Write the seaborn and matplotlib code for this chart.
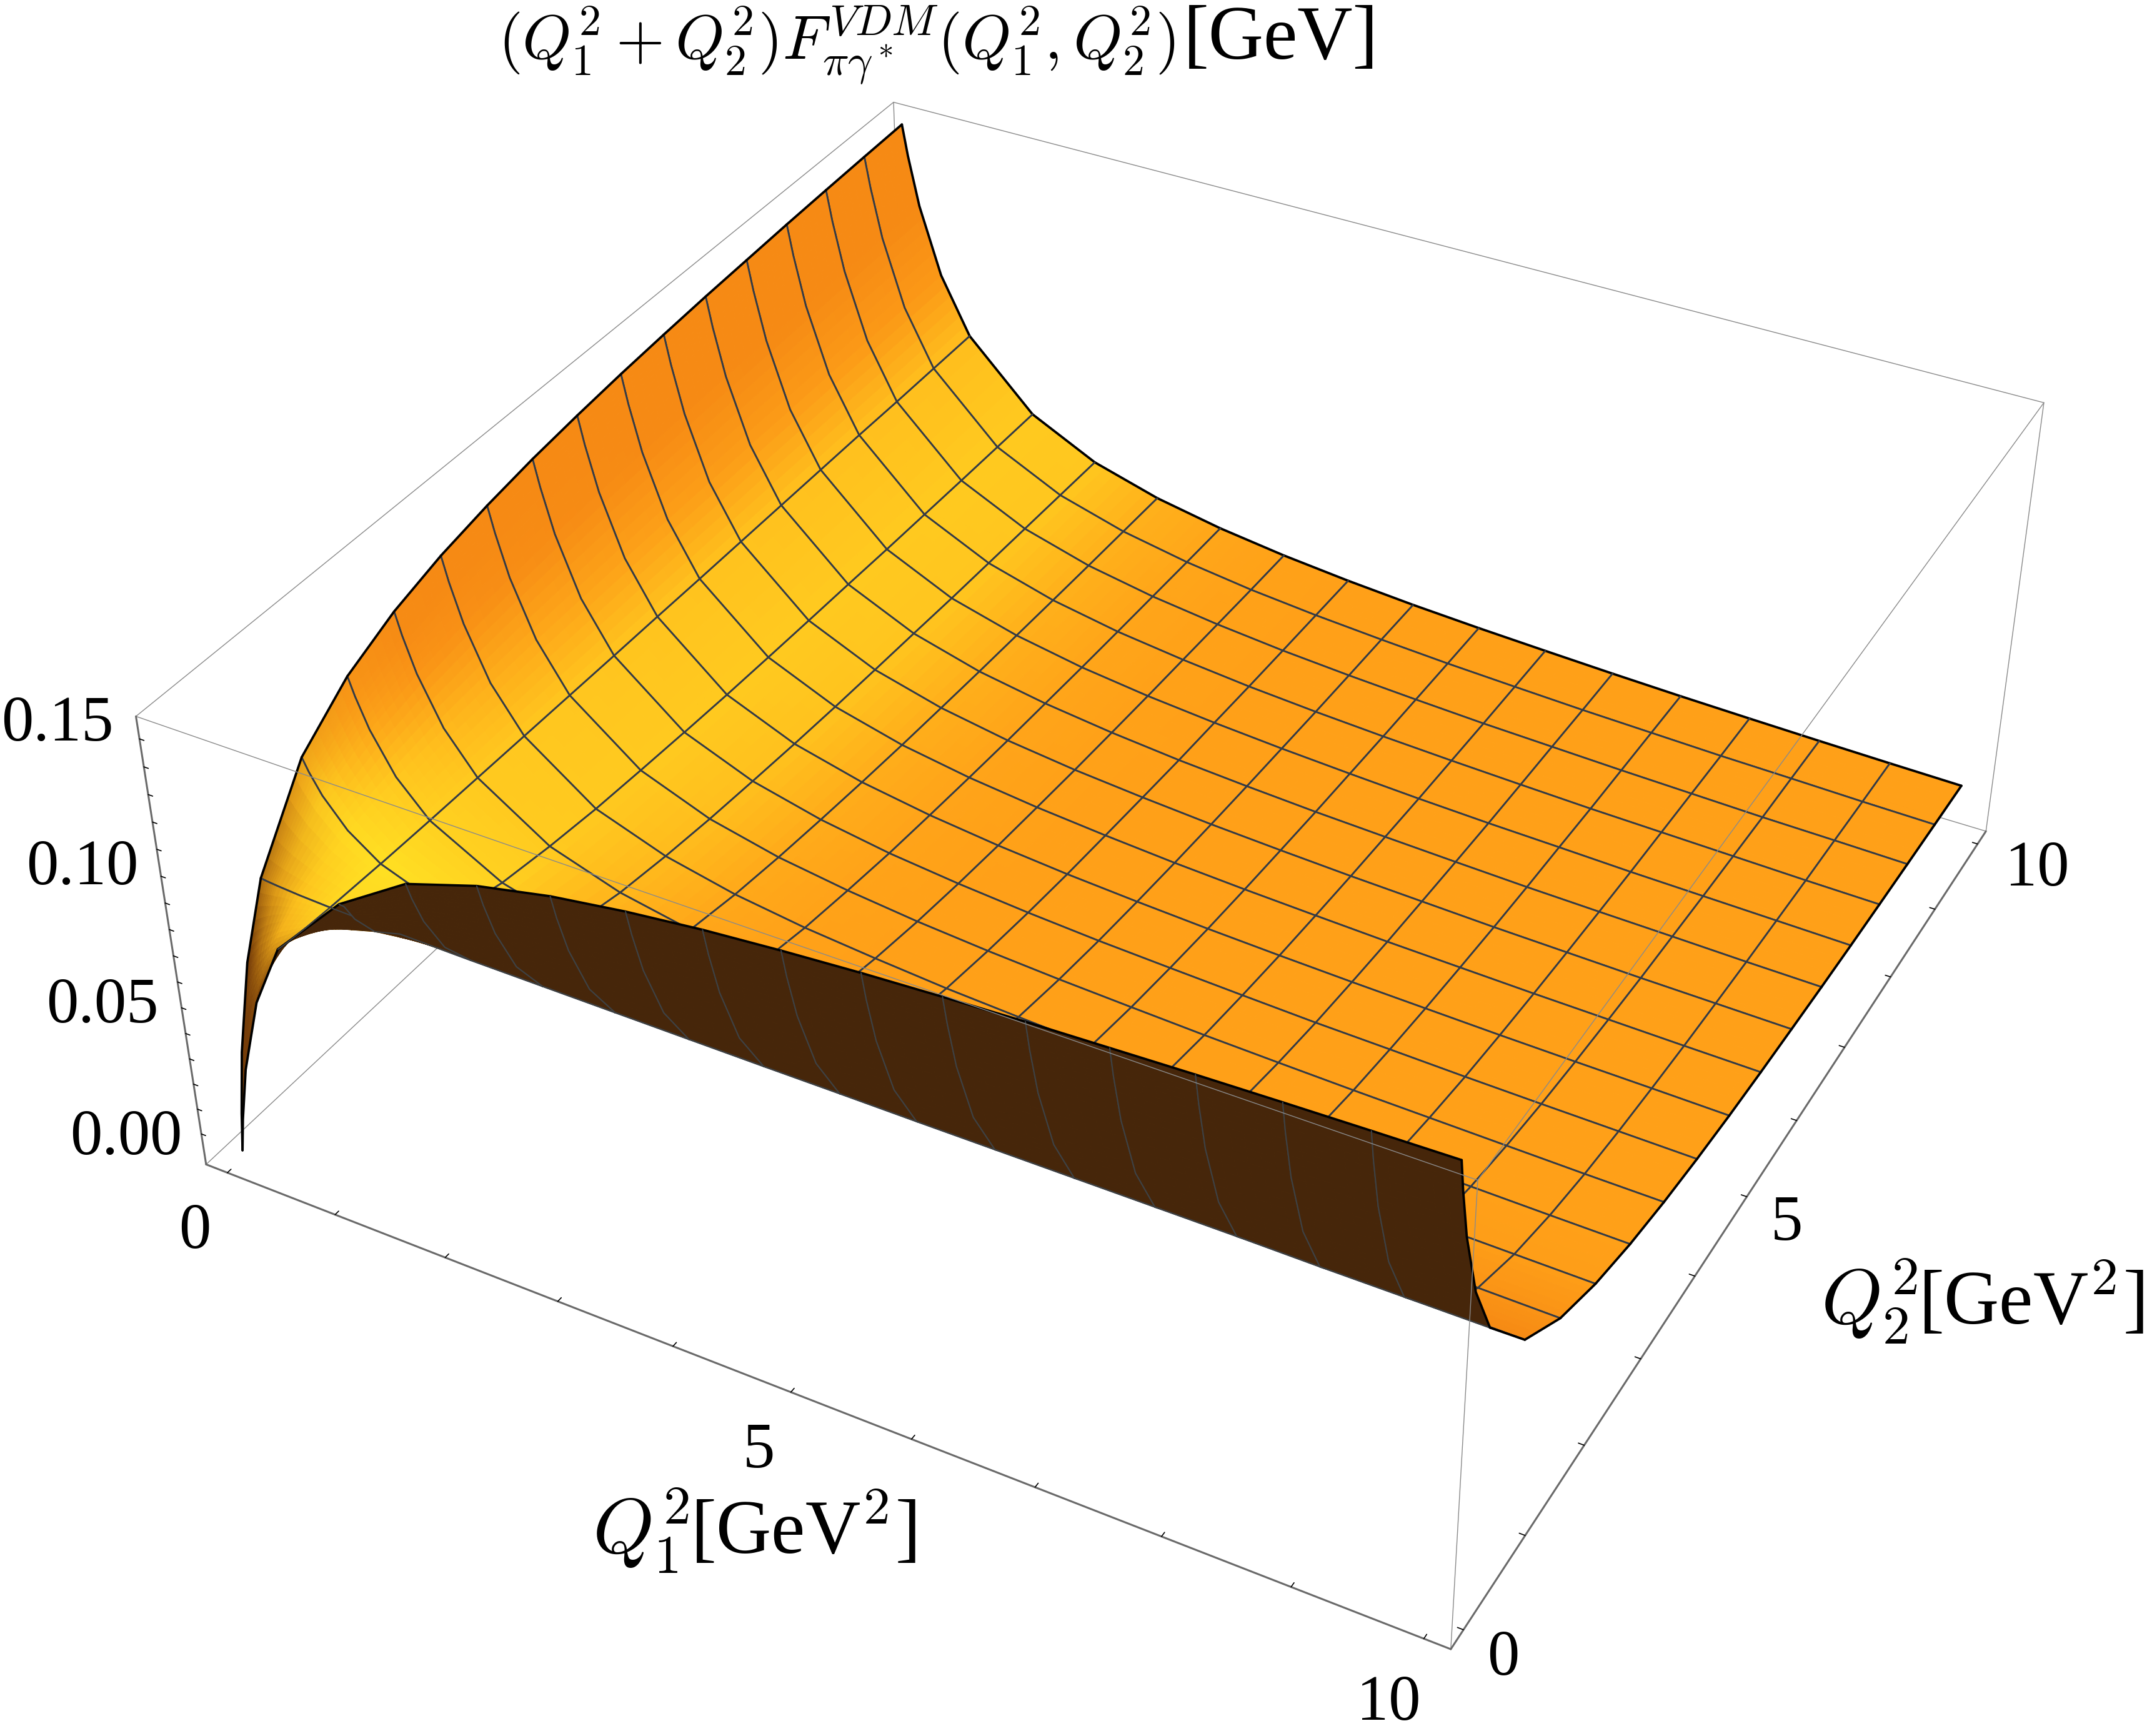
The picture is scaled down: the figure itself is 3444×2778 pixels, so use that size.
import numpy as np
import matplotlib
matplotlib.use('Agg')
import matplotlib.pyplot as plt
import seaborn as sns
from mpl_toolkits.mplot3d.art3d import Poly3DCollection

# grid: Q1^2 and Q2^2 nodes, finer next to the steep rims
q_nodes = [0, 0.05, 0.15, 0.35, 0.625, 1.25, 1.875, 2.5, 3.125, 3.75, 4.375, 5.0,
           5.625, 6.25, 6.875, 7.5, 8.125, 8.75, 9.375, 10.0]

# surface height in units of 1e-4 GeV, rows are Q1^2, columns Q2^2
z_rows = [
    [-95, 39, 254, 548, 795, 1084, 1226, 1312, 1369, 1409, 1440, 1463, 1482, 1497, 1510, 1520, 1530, 1538, 1545, 1551],
    [39, 152, 335, 583, 792, 1036, 1157, 1229, 1277, 1312, 1338, 1357, 1373, 1387, 1397, 1406, 1414, 1421, 1427, 1432],
    [254, 335, 463, 639, 788, 961, 1047, 1098, 1132, 1156, 1174, 1189, 1200, 1209, 1217, 1223, 1228, 1234, 1238, 1241],
    [548, 583, 639, 717, 782, 858, 895, 919, 933, 944, 951, 958, 963, 966, 971, 973, 976, 978, 979, 981],
    [795, 792, 788, 782, 777, 771, 768, 767, 766, 765, 764, 764, 763, 763, 763, 763, 763, 761, 761, 761],
    [1058, 1036, 961, 858, 771, 670, 619, 590, 569, 556, 545, 536, 530, 525, 521, 516, 513, 510, 508, 506],
    [1226, 1157, 1047, 895, 768, 619, 546, 501, 473, 452, 437, 424, 414, 407, 401, 394, 390, 386, 382, 378],
    [1312, 1229, 1098, 919, 767, 590, 501, 449, 414, 390, 372, 357, 345, 336, 328, 322, 316, 311, 307, 303],
    [1369, 1277, 1132, 933, 766, 569, 473, 414, 376, 350, 328, 313, 300, 289, 281, 273, 267, 262, 257, 253],
    [1409, 1312, 1156, 944, 765, 556, 452, 390, 350, 320, 298, 281, 268, 256, 247, 239, 233, 227, 221, 217],
    [1440, 1338, 1174, 951, 764, 545, 437, 372, 328, 298, 275, 257, 244, 232, 221, 214, 206, 200, 195, 190],
    [1463, 1357, 1189, 958, 764, 536, 424, 357, 313, 281, 257, 239, 224, 212, 202, 194, 186, 180, 175, 169],
    [1482, 1373, 1200, 963, 763, 530, 414, 345, 300, 268, 244, 224, 209, 197, 186, 178, 170, 164, 158, 153],
    [1497, 1387, 1209, 966, 763, 525, 407, 336, 289, 256, 232, 212, 197, 184, 174, 164, 157, 150, 145, 140],
    [1510, 1397, 1217, 971, 763, 521, 401, 328, 281, 247, 221, 202, 186, 174, 163, 153, 146, 140, 133, 128],
    [1520, 1406, 1223, 973, 763, 516, 394, 322, 273, 239, 214, 194, 178, 164, 153, 145, 136, 130, 124, 118],
    [1530, 1414, 1228, 976, 763, 513, 390, 316, 267, 233, 206, 186, 170, 157, 146, 136, 129, 122, 115, 110],
    [1538, 1421, 1234, 978, 761, 510, 386, 311, 262, 227, 200, 180, 164, 150, 140, 130, 122, 114, 109, 103],
    [1545, 1427, 1238, 979, 761, 508, 382, 307, 257, 221, 195, 175, 158, 145, 133, 124, 115, 109, 102, 97],
    [1551, 1432, 1241, 981, 761, 506, 378, 303, 253, 217, 190, 169, 153, 140, 128, 118, 110, 103, 97, 92],
]

q_ticks = [0, 1, 2, 3, 4, 5, 6, 7, 8, 9, 10]
z_ticks = [0.00, 0.01, 0.02, 0.03, 0.04, 0.05, 0.06, 0.07, 0.08, 0.09, 0.10, 0.11, 0.12, 0.13, 0.14, 0.15]

sns.set_theme(style='white')
plt.rcParams['font.family'] = ['Liberation Serif', 'DejaVu Serif']
plt.rcParams['mathtext.fontset'] = 'cm'

orange, yellow, spot_yellow, deep, burnt, brown, under = sns.color_palette(
    ['#FFA018', '#FFCE20', '#FFEA24', '#F68A14', '#CC6A0A', '#6E3708', '#46260A'])

W_PX, H_PX = 3444, 2778
q = np.array(q_nodes)
Z = np.array(z_rows) / 1e4
q_lo, q_hi = -0.2, 10.2
z_lo, z_hi = -0.0124, 0.158

fig = plt.figure(figsize=(W_PX / 100, H_PX / 100), dpi=100, facecolor='white')
ax = fig.add_axes([0, 0, 1, 1], projection='3d')
ax.set_xlim(q_lo, q_hi)
ax.set_ylim(q_lo, q_hi)
ax.set_zlim(z_lo, z_hi)
ax.view_init(elev=36.176, azim=-61.619)
ax.set_proj_type('persp', focal_length=0.4426)
ax.set_box_aspect((1, 1, 0.4))
ax.set_axis_off()
ax.computed_zorder = False

# scale and shift fitted to the box corners of the reference
s, tx_px, ty_px = 16734.957, 1819.894, 1245.794
x0, x1 = ax.viewLim.intervalx
y0, y1 = ax.viewLim.intervaly
side = s * (x1 - x0)
left = tx_px + s * x0
bottom = H_PX - (ty_px - s * y0)
ax.set_position([left / W_PX, bottom / H_PX, side / W_PX, side / H_PX])
M = ax.get_proj()


def project(x, y, z):
    p = M @ np.array([x, y, z, np.ones_like(x)])
    return p[0] / p[3], p[1] / p[3], p[2] / p[3]


def smooth(v, a, b):
    t = np.clip((v - a) / (b - a), 0, 1)
    return t * t * (3 - 2 * t)


def mix(rgb, col, w):
    return rgb + (np.array(col) - rgb) * w[..., None]


# colours per node from the slopes in box units, standing in for the original lights
A, B = np.meshgrid(q, q, indexing='ij')
slope = 0.4 / (z_hi - z_lo) * (q_hi - q_lo)
tx = -np.gradient(Z, q, axis=0) * slope
ty = -np.gradient(Z, q, axis=1) * slope
rgb = np.ones(Z.shape + (3,)) * np.array(orange)
rgb = mix(rgb, yellow, 0.9 * smooth(tx, 0.08, 0.45) * (1 - smooth(tx, 1.0, 3.0)))
rgb = mix(rgb, deep, np.maximum(smooth(tx, 1.5, 4), smooth(ty, 0.15, 0.6)))
rgb = mix(rgb, spot_yellow, np.exp(-((A - 1.0) ** 2 + (B - 0.9) ** 2) / 0.7))
rgb = mix(rgb, burnt, smooth(ty, 0.8, 1.6))
rgb = mix(rgb, brown, np.maximum(smooth(-tx, 0.3, 3), smooth(-ty, 0.3, 3)) * 0.95)

# one group per mesh cell, painted back to front so the mesh lines get hidden too
mesh_idx = [0] + list(range(4, 20))
n_split = 6
t = np.linspace(0, 1, n_split + 1)
blocks = []
for ia, ib in zip(mesh_idx[:-1], mesh_idx[1:]):
    for ja, jb in zip(mesh_idx[:-1], mesh_idx[1:]):
        mid = project(A[ia:ib + 1, ja:jb + 1].ravel(), B[ia:ib + 1, ja:jb + 1].ravel(), Z[ia:ib + 1, ja:jb + 1].ravel())
        blocks.append((np.mean(mid[2]), ia, ib, ja, jb))
blocks.sort(key=lambda b: -b[0])

zo = 10
for depth, ia, ib, ja, jb in blocks:
    faces, cols = [], []
    n_under = 0
    for i in range(ia, ib):
        for j in range(ja, jb):
            for u0, u1 in zip(t[:-1], t[1:]):
                for v0, v1 in zip(t[:-1], t[1:]):
                    pts = []
                    for u, v in [(u0, v0), (u1, v0), (u1, v1), (u0, v1)]:
                        pts.append((q[i] + u * (q[i + 1] - q[i]),
                                    q[j] + v * (q[j + 1] - q[j]),
                                    (1 - u) * (1 - v) * Z[i, j] + u * (1 - v) * Z[i + 1, j]
                                    + (1 - u) * v * Z[i, j + 1] + u * v * Z[i + 1, j + 1]))
                    pts = np.array(pts)
                    px, py, _ = project(pts[:, 0], pts[:, 1], pts[:, 2])
                    area = np.sum(px * np.roll(py, -1) - np.roll(px, -1) * py)
                    um, vm = (u0 + u1) / 2, (v0 + v1) / 2
                    c = ((1 - um) * (1 - vm) * rgb[i, j] + um * (1 - vm) * rgb[i + 1, j]
                         + (1 - um) * vm * rgb[i, j + 1] + um * vm * rgb[i + 1, j + 1])
                    if area < 0:  # seen from below
                        c = np.array(under)
                        n_under += 1
                    faces.append(pts)
                    cols.append(c)
    poly = Poly3DCollection(faces, facecolors=cols, edgecolors=cols, linewidths=0.7, zsort='average')
    poly.set_clip_on(False)
    poly.set_zorder(zo)
    ax.add_collection3d(poly, autolim=False)

    is_under = n_under > len(faces) / 2
    sides = [(q[ia:ib + 1], np.full(ib - ia + 1, q[ja]), Z[ia:ib + 1, ja], ja == 0),
             (q[ia:ib + 1], np.full(ib - ia + 1, q[jb]), Z[ia:ib + 1, jb], jb == 19),
             (np.full(jb - ja + 1, q[ia]), q[ja:jb + 1], Z[ia, ja:jb + 1], ia == 0),
             (np.full(jb - ja + 1, q[ib]), q[ja:jb + 1], Z[ib, ja:jb + 1], ib == 19)]
    for xs, ys, zs, rim in sides:
        if rim:
            ax.plot(xs, ys, zs, color='black', lw=2.7, zorder=zo + 1, clip_on=False, solid_capstyle='round')
        else:
            ax.plot(xs, ys, zs, color='#3E4143' if is_under else '#343B46', lw=1.5 if is_under else 2.0,
                    zorder=zo + 1, clip_on=False, solid_capstyle='round')
    zo += 2

# bounding box: back edges under the surface, front edges over it
thin = dict(color='#8A8A8A', lw=1.0, clip_on=False)
heavy = dict(color='#6A6A6A', lw=2.2, clip_on=False)
for xs, ys, zs in [([q_lo, q_lo], [q_lo, q_hi], [z_hi, z_hi]), ([q_lo, q_hi], [q_hi, q_hi], [z_hi, z_hi]),
                   ([q_lo, q_lo], [q_hi, q_hi], [z_lo, z_hi]), ([q_lo, q_lo], [q_lo, q_hi], [z_lo, z_lo]),
                   ([q_lo, q_hi], [q_hi, q_hi], [z_lo, z_lo]), ([q_hi, q_hi], [q_hi, q_hi], [z_lo, z_hi])]:
    ax.plot(xs, ys, zs, zorder=1, **thin)
top = zo + 5
for xs, ys, zs in [([q_lo, q_hi], [q_lo, q_lo], [z_hi, z_hi]), ([q_hi, q_hi], [q_lo, q_hi], [z_hi, z_hi]),
                   ([q_hi, q_hi], [q_lo, q_lo], [z_lo, z_hi])]:
    ax.plot(xs, ys, zs, zorder=top, **thin)
for xs, ys, zs in [([q_lo, q_lo], [q_lo, q_lo], [z_lo, z_hi]), ([q_lo, q_hi], [q_lo, q_lo], [z_lo, z_lo]),
                   ([q_hi, q_hi], [q_lo, q_hi], [z_lo, z_lo])]:
    ax.plot(xs, ys, zs, zorder=top, **heavy)

for v in z_ticks:
    ax.plot([q_lo, q_lo + 0.04], [q_lo, q_lo], [v, v], color='black', lw=1.2, zorder=top, clip_on=False)
for v in q_ticks:
    ax.plot([v, v], [q_lo, q_lo + 0.045], [z_lo, z_lo], color='black', lw=1.2, zorder=top, clip_on=False)
    ax.plot([q_hi, q_hi - 0.045], [v, v], [z_lo, z_lo], color='black', lw=1.2, zorder=top, clip_on=False)


def label(x, y, s_, size=74, ha='left'):
    fig.text(x / W_PX, 1 - y / H_PX, s_, fontsize=size, ha=ha, va='baseline', color='black')


label(182, 1185, '0.15', ha='right')
label(222, 1415, '0.10', ha='right')
label(254, 1636, '0.05', ha='right')
label(292, 1847, '0.00', ha='right')
label(312, 1997, '0', ha='center')
label(1214, 2348, '5', ha='center')
label(2222, 2752, '10', ha='center')
label(2406, 2680, '0', ha='center')
label(2859, 1984, '5', ha='center')
label(3260, 1417, '10', ha='center')

label(797, 94, r'$(Q_1^2+Q_2^2)F_{\pi\gamma^*}^{VDM}(Q_1^2,Q_2^2)$', size=72)
label(1894, 94, '[GeV]', size=88)
label(948, 2486, r'$Q_1^2$', size=90)
label(1105, 2486, '[GeV$^2$]', size=88)
label(2914, 2119, r'$Q_2^2$', size=90)
label(3070, 2119, '[GeV$^2$]', size=88)

fig.savefig('out.png', dpi=100, facecolor='white')
